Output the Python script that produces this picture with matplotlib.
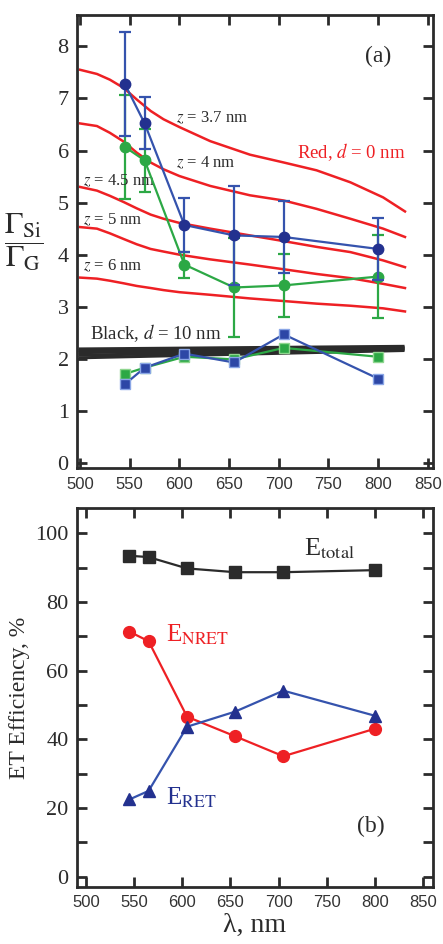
import numpy as np
import matplotlib.pyplot as plt
from matplotlib.ticker import MultipleLocator, FuncFormatter

plt.rcParams['mathtext.fontset'] = 'stix'
plt.rcParams['font.family'] = ['Liberation Serif', 'DejaVu Serif']

# wavelengths (nm)
wl = [545, 565, 605, 655, 705, 800]

# panel (a): measured enhancement ratios
blue_circ = [7.28, 6.52, 4.57, 4.37, 4.34, 4.11]
blue_circ_err = [1.0, 0.5, 0.52, 0.95, 0.7, 0.6]
green_circ = [6.07, 5.81, 3.81, 3.37, 3.41, 3.58]
green_circ_err = [1.0, 0.6, 0.25, 0.95, 0.6, 0.8]
blue_sq = [1.51, 1.83, 2.10, 1.93, 2.47, 1.62]
green_sq = [1.71, 1.83, 2.04, 1.99, 2.21, 2.04]

# panel (a): calculated curves (red, d = 0 nm)
theory_x = [500, 517, 530, 544, 557, 571, 584, 600, 631, 671, 705, 738, 772, 805, 827]
z37 = [7.55, 7.47, 7.36, 7.20, 6.98, 6.76, 6.60, 6.45, 6.18, 5.92, 5.77, 5.62, 5.39, 5.10, 4.83]
z40 = [6.52, 6.47, 6.34, 6.17, 5.96, 5.77, 5.64, 5.51, 5.32, 5.14, 5.04, 4.88, 4.69, 4.50, 4.34]
z45 = [5.30, 5.23, 5.13, 5.01, 4.89, 4.77, 4.69, 4.61, 4.50, 4.37, 4.26, 4.15, 4.05, 3.89, 3.76]
z50 = [4.53, 4.50, 4.41, 4.30, 4.20, 4.11, 4.06, 4.00, 3.91, 3.81, 3.72, 3.63, 3.55, 3.44, 3.36]
z60 = [3.56, 3.54, 3.50, 3.45, 3.40, 3.36, 3.32, 3.28, 3.23, 3.16, 3.11, 3.06, 3.02, 2.97, 2.91]
# black, d = 10 nm (end values of the band lines)
black_x = [500, 825]
black_lines = [[2.02, 2.16], [2.07, 2.18], [2.12, 2.20], [2.16, 2.22], [2.19, 2.24]]

# panel (b): efficiencies (%)
e_total = [93.5, 93.1, 89.8, 88.7, 88.7, 89.3]
e_nret = [71.4, 68.6, 46.6, 40.9, 35.1, 43.1]
e_ret = [22.5, 25.0, 43.7, 48.1, 54.2, 46.9]

RED = '#ee2024'
BLUE = '#3553ad'
NAVY = '#23318f'
GREEN = '#2ca845'
DARK = '#2b2b2b'

fig = plt.figure(figsize=(4.43, 9.44), dpi=100)
ax1 = fig.add_axes([0.174, 0.504, 0.803, 0.480])
ax2 = fig.add_axes([0.174, 0.0607, 0.803, 0.4008])


def style(ax):
    for s in ax.spines.values():
        s.set_linewidth(2.0)
        s.set_color(DARK)
    ax.tick_params(direction='in', top=True, right=True, length=7, width=2,
                   color=DARK, labelcolor=DARK)
    ax.tick_params(axis='y', labelsize=16, pad=6)
    ax.tick_params(axis='x', labelsize=12, pad=6)
    for lab in ax.get_xticklabels():
        lab.set_family('Liberation Sans')
        lab.set_color('#333333')


# ---- panel (a)
for yv in [z37, z40, z45, z50, z60]:
    ax1.plot(theory_x, yv, color=RED, lw=1.8, zorder=2)
for bl in black_lines:
    ax1.plot(black_x, bl, color=DARK, lw=2.2, zorder=2)

ax1.errorbar(wl, green_circ, yerr=green_circ_err, color=GREEN, lw=1.6, capsize=4,
             capthick=1.6, marker='o', ms=7.5, mfc=GREEN, mec=GREEN, zorder=3)
ax1.errorbar(wl, blue_circ, yerr=blue_circ_err, color=BLUE, lw=1.6, capsize=4,
             capthick=1.6, marker='o', ms=7.5, mfc=NAVY, mec=NAVY, zorder=4)
ax1.plot(wl, green_sq, color=GREEN, lw=1.6, marker='s', ms=7, mfc=GREEN,
         mec='#8fd68f', mew=1.0, zorder=5)
ax1.plot(wl, blue_sq, color=BLUE, lw=1.6, marker='s', ms=7, mfc='#2d47a6',
         mec='#8aa6e6', mew=1.0, zorder=6)

ax1.set_xlim(497, 855)
ax1.set_ylim(-0.1, 8.6)
ax1.xaxis.set_major_locator(MultipleLocator(50))
ax1.yaxis.set_major_locator(MultipleLocator(1))
style(ax1)

tkw = dict(fontsize=12, color=DARK, va='center')
ax1.text(597, 6.62, r'$z$ = 3.7 nm', **tkw)
ax1.text(597, 5.76, r'$z$ = 4 nm', **tkw)
ax1.text(503, 5.42, r'$z$ = 4.5 nm', **tkw)
ax1.text(503, 4.67, r'$z$ = 5 nm', **tkw)
ax1.text(503, 3.78, r'$z$ = 6 nm', **tkw)
ax1.text(510, 2.49, r'Black, $d$ = 10 nm', fontsize=13.5, color=DARK, va='center')
ax1.text(718, 5.97, r'Red, $d$ = 0 nm', fontsize=13.5, color=RED, va='center')
ax1.text(800, 7.7, '(a)', fontsize=17, color=DARK, ha='center')
ax1.set_ylabel(r'$\dfrac{\Gamma_{\rm Si}}{\Gamma_{\rm G}}$', fontsize=22,
               rotation=0, labelpad=24, va='center', color=DARK)

# ---- panel (b)
ax2.plot(wl, e_total, color=DARK, lw=1.6, marker='s', ms=8, zorder=3)
ax2.plot(wl, e_nret, color=RED, lw=1.6, marker='o', ms=8.5, zorder=3)
ax2.plot(wl, e_ret, color=BLUE, lw=1.6, marker='^', ms=9, mfc=NAVY, mec=NAVY, zorder=4)

ax2.set_xlim(490.7, 860.3)
ax2.set_ylim(-2.9, 107.3)
ax2.xaxis.set_major_locator(MultipleLocator(50))
ax2.yaxis.set_major_locator(MultipleLocator(10))
ax2.yaxis.set_major_formatter(FuncFormatter(lambda v, p: '%d' % v if round(v) % 20 == 0 else ''))
style(ax2)

ax2.text(726, 93.5, r'E$_{\rm total}$', fontsize=19, color=DARK)
ax2.text(583, 68.5, r'E$_{\rm NRET}$', fontsize=18, color=RED)
ax2.text(583, 21.0, r'E$_{\rm RET}$', fontsize=18, color=NAVY)
ax2.text(796, 13, '(b)', fontsize=17, color=DARK, ha='center')
ax2.set_ylabel('ET Efficiency, %', fontsize=17, color=DARK, labelpad=4)
ax2.set_xlabel('λ, nm', fontsize=20, color=DARK, labelpad=2)

fig.savefig('out.png', dpi=100)
